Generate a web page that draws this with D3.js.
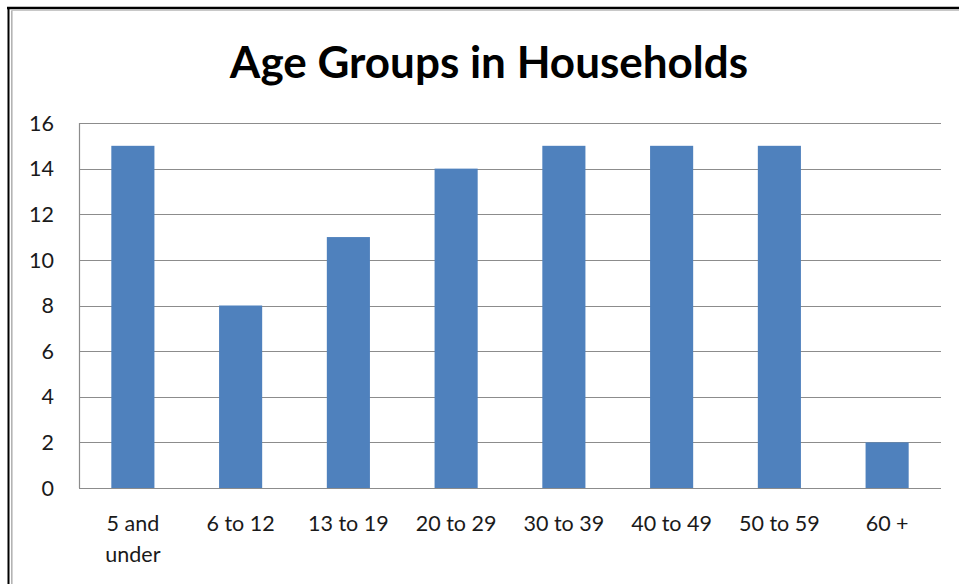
<!DOCTYPE html>
<html>
<head>
<meta charset="utf-8">
<script src="https://cdn.jsdelivr.net/npm/d3@7"></script>
<style>
  html, body { margin: 0; padding: 0; background: #fff; }
  svg { display: block; }
</style>
</head>
<body>
<div id="chart"></div>
<script>
// data
const categories = ["5 and under", "6 to 12", "13 to 19", "20 to 29", "30 to 39", "40 to 49", "50 to 59", "60 +"];
const values = [15, 8, 11, 14, 15, 15, 15, 2];
const yTicks = [0, 2, 4, 6, 8, 10, 12, 14, 16];
const title = "Age Groups in Households";

const width = 959;
const height = 584;
const margin = { top: 123, right: 18, bottom: 96, left: 79 };
const font = "Lato, 'Open Sans', sans-serif";
const labelSize = 21.5;

const svg = d3
  .select("#chart")
  .append("svg")
  .attr("width", width)
  .attr("height", height);

// frame: black outer line with a grey inner one, top and left only
const frame = svg.append("g").attr("class", "frame");
frame.append("line").attr("x1", 7).attr("x2", width).attr("y1", 8).attr("y2", 8)
  .attr("stroke", "#000").attr("stroke-width", 2.5);
frame.append("line").attr("x1", 8.5).attr("x2", 8.5).attr("y1", 7).attr("y2", height)
  .attr("stroke", "#000").attr("stroke-width", 2);
frame.append("line").attr("x1", 11.5).attr("x2", width).attr("y1", 10.5).attr("y2", 10.5)
  .attr("stroke", "#c8c8c8").attr("stroke-width", 1.2);
frame.append("line").attr("x1", 11.8).attr("x2", 11.8).attr("y1", 10.5).attr("y2", height)
  .attr("stroke", "#b4b4b4").attr("stroke-width", 1.6);

const x = d3
  .scaleBand()
  .domain(categories)
  .range([margin.left, width - margin.right])
  .paddingInner(0.6)
  .paddingOuter(0.3);

const y = d3
  .scaleLinear()
  .domain([0, 16])
  .range([height - margin.bottom, margin.top]);

// title
const titleText = svg
  .append("text")
  .attr("x", 489)
  .attr("y", 78)
  .attr("text-anchor", "middle")
  .attr("font-family", font)
  .attr("font-weight", "bold")
  .attr("font-size", 44)
  .attr("fill", "#000")
  .text(title);
// keep it to the reference width
const tw = titleText.node().getComputedTextLength();
if (Math.abs(tw - 518) > 4) titleText.attr("textLength", 518).attr("lengthAdjust", "spacingAndGlyphs");

// grid lines
svg
  .append("g")
  .attr("class", "grid")
  .selectAll("line")
  .data(yTicks)
  .join("line")
  .attr("x1", margin.left)
  .attr("x2", width - margin.right)
  .attr("y1", (d) => Math.round(y(d)) + 0.5)
  .attr("y2", (d) => Math.round(y(d)) + 0.5)
  .attr("stroke", "#8c8c8c")
  .attr("stroke-width", 1.2);

// y axis line
svg
  .append("line")
  .attr("x1", margin.left + 0.5)
  .attr("x2", margin.left + 0.5)
  .attr("y1", y(16))
  .attr("y2", y(0))
  .attr("stroke", "#8c8c8c")
  .attr("stroke-width", 1.2);

// y tick labels
svg
  .append("g")
  .attr("class", "y-labels")
  .selectAll("text")
  .data(yTicks)
  .join("text")
  .attr("x", 54)
  .attr("y", (d) => y(d))
  .attr("dy", "0.36em")
  .attr("text-anchor", "end")
  .attr("font-family", font)
  .attr("font-size", labelSize)
  .attr("fill", "#1a1a1a")
  .text((d) => d);

// bars
svg
  .append("g")
  .attr("class", "bars")
  .selectAll("rect")
  .data(values)
  .join("rect")
  .attr("x", (d, i) => x(categories[i]))
  .attr("width", x.bandwidth())
  .attr("y", (d) => y(d))
  .attr("height", (d) => y(0) - y(d))
  .attr("fill", "#4f81bd");

// x labels, wrapped like Excel does for long ones
const xLabels = svg
  .append("g")
  .attr("class", "x-labels")
  .selectAll("text")
  .data(categories)
  .join("text")
  .attr("x", (d) => x(d) + x.bandwidth() / 2)
  .attr("y", 531)
  .attr("text-anchor", "middle")
  .attr("font-family", font)
  .attr("font-size", labelSize)
  .attr("fill", "#1a1a1a")
  .text((d) => d);

xLabels.each(function (d) {
  const t = d3.select(this);
  if (this.getComputedTextLength() <= 98) return;
  const words = d.split(" ");
  const cx = t.attr("x");
  t.text(null);
  t.append("tspan").attr("x", cx).attr("dy", 0).text(words.slice(0, -1).join(" "));
  t.append("tspan").attr("x", cx).attr("dy", 31).text(words[words.length - 1]);
});
</script>
</body>
</html>
